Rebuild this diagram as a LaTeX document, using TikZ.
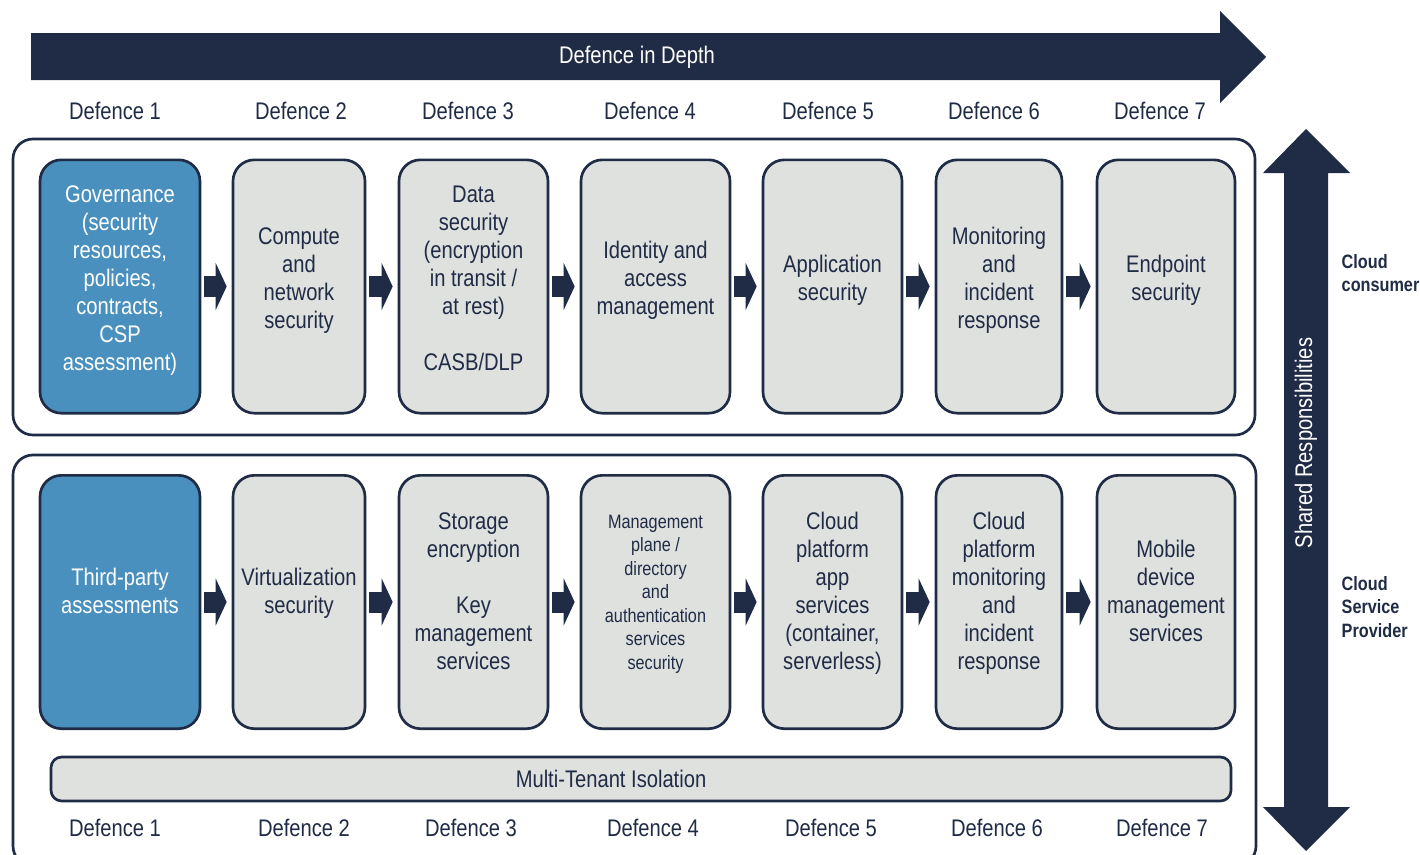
\documentclass[tikz,border=0pt]{standalone}
\usepackage{fontspec}
\setmainfont{Liberation Sans}[FakeStretch=0.84]
\usepackage{tikz}
\usetikzlibrary{arrows.meta}

\definecolor{navy}{RGB}{32,43,69}
\definecolor{govblue}{RGB}{74,144,190}
\definecolor{cellgray}{RGB}{223,225,222}

% centred lines, lifted a little above the middle of the box
\newcommand{\celllift}{8pt}
\newcommand{\celltext}[1]{\begin{tabular}{@{}c@{}}#1\\[\celllift]\end{tabular}}

\begin{document}
\begin{tikzpicture}[x=0.75pt, y=-0.75pt,
  cell/.style={draw=navy, line width=2pt, rounded corners=16pt, fill=cellgray,
    text=navy, font=\fontsize{18}{21}\selectfont,
    minimum height=190pt, inner sep=0pt},
  govcell/.style={cell, fill=govblue, text=white},
  bar/.style={draw=navy, line width=2pt, rounded corners=8pt, fill=cellgray, inner sep=0pt},
  flow/.style={navy, line width=15.75pt, shorten <=2.25pt, shorten >=3.75pt,
    -{Triangle[length=8.25pt, width=35pt]}},
  group/.style={draw=navy, line width=2pt, rounded corners=15pt},
  deflabel/.style={text=navy, font=\fontsize{18}{21}\selectfont},
  side/.style={text=navy, font=\fontsize{14.5}{17.6}\selectfont\bfseries,
    align=left, anchor=west}]
  % Page size (pixels of the reference, y downwards)
  \useasboundingbox (0,0) rectangle (1420,854);
  \def\rowA{286.5}  % consumer row
  \def\rowB{602}    % provider row

  % Defence in Depth arrow
  \fill[navy] (31,33) -- (1220,33) -- (1220,11) -- (1266,57) -- (1220,103)
    -- (1220,80) -- (31,80) -- cycle;
  \node[white, font=\fontsize{18}{21}\selectfont] (depth) at (637,57) {Defence in Depth};

  % Defence labels, top and bottom
  \foreach \x [count=\i] in {115,301,468,650,828,994,1160}
    \node[deflabel] (top\i) at (\x,111) {Defence \i};
  \foreach \x [count=\i] in {115,304,471,653,831,997,1162}
    \node[deflabel] (bot\i) at (\x,828) {Defence \i};

  % Group frames
  \draw[group] (13,139) rectangle (1255,435);
  \draw[group] (13,455) rectangle (1256,866);

  % Cloud consumer row
  \renewcommand{\celllift}{8pt}
  \node[govcell, minimum width=120pt] (gov) at (120,\rowA)
    {\celltext{Governance\\(security\\resources,\\policies,\\contracts,\\CSP\\assessment)}};
  \node[cell, minimum width=99pt] (cns) at (299,\rowA) {\celltext{Compute\\and\\network\\security}};
  \node[cell, minimum width=111.75pt] (dsec) at (473.5,\rowA)
    {\celltext{Data\\security\\(encryption\\in transit /\\at rest)\\[21pt]CASB/DLP}};
  \node[cell, minimum width=111.75pt] (iam) at (655.5,\rowA) {\celltext{Identity and\\access\\management}};
  \node[cell, minimum width=104.25pt] (appsec) at (832.5,\rowA) {\celltext{Application\\security}};
  \node[cell, minimum width=94.5pt] (mir) at (999,\rowA) {\celltext{Monitoring\\and\\incident\\response}};
  \node[cell, minimum width=103.5pt] (endp) at (1166,\rowA) {\celltext{Endpoint\\security}};

  % Cloud service provider row
  \renewcommand{\celllift}{12pt}
  \node[govcell, minimum width=120pt] (tpa) at (120,\rowB) {\celltext{Third-party\\assessments}};
  \node[cell, minimum width=99pt] (virt) at (299,\rowB) {\celltext{Virtualization\\security}};
  \node[cell, minimum width=111.75pt] (stor) at (473.5,\rowB)
    {\celltext{Storage\\encryption\\[21pt]Key\\management\\services}};
  \node[cell, minimum width=111.75pt, font=\fontsize{14.5}{17.6}\selectfont] (mgmt) at (655.5,\rowB)
    {\celltext{Management\\plane /\\directory\\and\\authentication\\services\\security}};
  \node[cell, minimum width=104.25pt] (cpas) at (832.5,\rowB)
    {\celltext{Cloud\\platform\\app\\services\\(container,\\serverless)}};
  \node[cell, minimum width=94.5pt] (cpmir) at (999,\rowB)
    {\celltext{Cloud\\platform\\monitoring\\and\\incident\\response}};
  \node[cell, minimum width=103.5pt] (mdm) at (1166,\rowB) {\celltext{Mobile\\device\\management\\services}};

  % Flow arrows
  \foreach \a/\b in {gov/cns, cns/dsec, dsec/iam, iam/appsec, appsec/mir, mir/endp,
                     tpa/virt, virt/stor, stor/mgmt, mgmt/cpas, cpas/cpmir, cpmir/mdm}
    \draw[flow] (\a) -- (\b);

  % Multi-tenant bar
  \node[bar, minimum width=885pt, minimum height=33pt,
    label={[deflabel, xshift=-22.5pt]center:Multi-Tenant Isolation}] (mti) at (641,779) {};

  % Shared responsibilities arrow
  \fill[navy] (1306,129) -- (1350,173) -- (1328,173) -- (1328,807) -- (1350,807)
    -- (1306,851) -- (1263,807) -- (1284,807) -- (1284,173) -- (1263,173) -- cycle;
  \node[white, rotate=90, font=\fontsize{18}{21}\selectfont] (shared) at (1306,443)
    {Shared Responsibilities};

  % Side labels
  \node[side] (consumer) at (1337,273) {Cloud\\consumer};
  \node[side] (provider) at (1337,607) {Cloud\\Service\\Provider};
\end{tikzpicture}
\end{document}
